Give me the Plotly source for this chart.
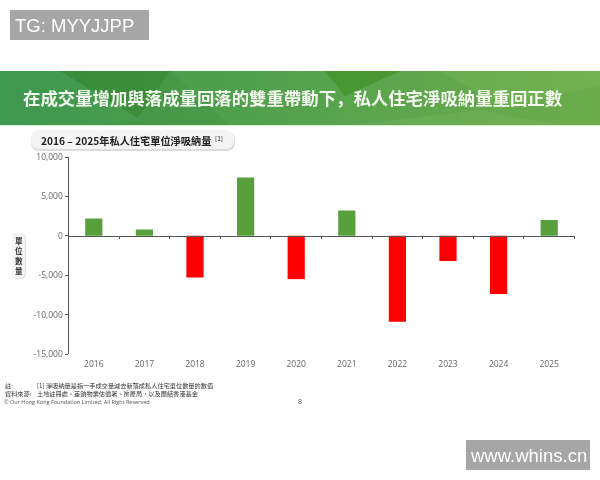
import plotly.graph_objects as go

W, H = 600, 480
CJK = "Noto Sans CJK TC"

years = ["2016", "2017", "2018", "2019", "2020", "2021", "2022", "2023", "2024", "2025"]
net_take_up = [2200, 800, -5300, 7400, -5500, 3200, -10900, -3200, -7400, 2000]
tick_vals = [10000, 5000, 0, -5000, -10000, -15000]
tick_text = ["10,000", "5,000", "0", "-5,000", "-10,000", "-15,000"]

banner_title = "在成交量增加與落成量回落的雙重帶動下，私人住宅淨吸納量重回正數"
chart_title = "2016 – 2025年私人住宅單位淨吸納量"
y_label = "單<br>位<br>數<br>量"
note_label = "註:"
note_text = "[1] 淨吸納量是指一手成交量減去新落成私人住宅單位數量的數值"
source_label = "資料來源:"
source_text = "土地註冊處、差餉物業估價署、房屋局，以及團結香港基金"
copyright_text = "© Our Hong Kong Foundation Limited. All Right Reserved."


def px(x):
    return x / W


def py(y):
    return 1 - y / H


def rect(x0, y0, x1, y1, color):
    return dict(
        type="rect", xref="paper", yref="paper",
        x0=px(x0), x1=px(x1), y0=py(y0), y1=py(y1),
        fillcolor=color, line_width=0, layer="below",
    )


def pill(x0, y0, x1, y1, r, color):
    # rounded rectangle, drawn in paper coordinates
    rx, ry = r / W, r / H
    a, b, c, d = px(x0), px(x1), py(y1), py(y0)
    path = (
        f"M{a + rx},{c} L{b - rx},{c} Q{b},{c} {b},{c + ry} L{b},{d - ry} Q{b},{d} {b - rx},{d} "
        f"L{a + rx},{d} Q{a},{d} {a},{d - ry} L{a},{c + ry} Q{a},{c} {a + rx},{c} Z"
    )
    return dict(type="path", xref="paper", yref="paper", path=path,
                fillcolor=color, line_width=0, layer="below")


def facet(points, color):
    path = "M" + " L".join(f"{px(x)},{py(y)}" for x, y in points) + " Z"
    return dict(type="path", xref="paper", yref="paper", path=path,
                fillcolor=color, line_width=0, layer="below")


def label(x, y, text, size, color="#333333", anchor="left", font=CJK):
    return dict(
        x=px(x), y=py(y), xref="paper", yref="paper", text=text, showarrow=False,
        xanchor=anchor, yanchor="middle", align=anchor, borderpad=0,
        font=dict(family=font, size=size, color=color),
    )


shapes = []
# banner gradient, left to right
left, right = (62, 152, 78), (108, 172, 76)
strips = 60
for i in range(strips):
    t = i / (strips - 1)
    c = [round(a + (b - a) * t) for a, b in zip(left, right)]
    shapes.append(rect(i * W / strips, 71, (i + 1) * W / strips + 1, 125, f"rgb({c[0]},{c[1]},{c[2]})"))
shapes += [
    facet([(60, 71), (170, 71), (138, 118)], "rgba(50,130,40,0.55)"),
    facet([(325, 71), (400, 71), (345, 96)], "rgba(60,140,30,0.55)"),
    facet([(105, 125), (138, 118), (170, 71), (230, 125)], "rgba(60,140,60,0.25)"),
    facet([(440, 71), (490, 100), (495, 110), (600, 85), (600, 71)], "rgba(130,190,90,0.25)"),
    facet([(480, 110), (560, 125), (350, 125)], "rgba(150,200,110,0.18)"),
    rect(0, 125, 600, 126, "#d5ecc8"),
    # watermarks
    rect(10, 10, 149, 40, "#a6a6a6"),
    rect(466, 440, 590, 470, "#a6a6a6"),
    # title pills, shadow first
    pill(31, 131, 235, 151, 9, "#dcdcdc"),
    pill(31, 130, 234, 149, 9, "#f4f4f4"),
    pill(12, 233, 26, 279, 6, "#e2e2e2"),
    pill(12, 233, 25, 278, 6, "#f6f6f6"),
]

annotations = [
    label(14, 25, "TG: MYYJJPP", 18.5, "#ffffff", font="Liberation Sans"),
    label(469, 455, "www.whins.cn", 18.5, "#ffffff", font="Liberation Sans"),
    label(292, 97, f"<b>{banner_title}</b>", 17.4, "#f2f8ee", anchor="center", font="Noto Sans CJK SC"),
    label(40, 140, f"<b>{chart_title}</b>", 10.2, "#222222"),
    label(214, 138, "[1]", 6.5, "#222222"),
    label(18.5, 255, f"<b>{y_label}</b>", 7.6, "#333333", anchor="center"),
    label(4, 389, f"{note_label}<br>{source_label}", 6.2),
    label(36, 389, f"{note_text}<br>{source_text}", 6.2),
    label(3, 402, copyright_text, 5.5, "#555555", font="Open Sans"),
    label(300, 401, "8", 7, "#555555", anchor="center", font="Open Sans"),
]

bar_colors = ["#58a03c" if v > 0 else "#ff0000" for v in net_take_up]

fig = go.Figure()
fig.add_trace(go.Bar(x=years, y=net_take_up, marker=dict(color=bar_colors, line_width=0),
                     width=0.34, hoverinfo="x+y"))
# carries the axis line through zero, with its ticks between the years
fig.add_trace(go.Scatter(x=years, y=net_take_up, xaxis="x2", mode="markers", opacity=0,
                         hoverinfo="skip"))

y_top, y_bottom = py(157), py(354)
zero_pos = y_bottom + (y_top - y_bottom) * 15000 / 25000

fig.update_layout(
    width=W, height=H, autosize=False,
    margin=dict(l=0, r=0, t=0, b=0),
    paper_bgcolor="white", plot_bgcolor="white",
    showlegend=False,
    shapes=shapes,
    annotations=annotations,
    font=dict(family="Open Sans", size=8.5, color="#666666"),
    xaxis=dict(
        domain=[px(68.5), px(574.5)], range=[-0.5, 9.5], automargin=False,
        type="category", showgrid=False, zeroline=False, showline=False, ticks="",
        ticklabelstandoff=3,
    ),
    xaxis2=dict(
        domain=[px(68.5), px(574.5)], automargin=False,
        matches="x", overlaying="x", anchor="free", position=zero_pos, side="bottom",
        type="category", showgrid=False, zeroline=False, showline=True,
        linecolor="#555555", linewidth=1, ticks="outside", ticklen=2, tickcolor="#555555",
        tickson="boundaries", showticklabels=False,
    ),
    yaxis=dict(
        domain=[y_bottom, y_top], range=[-15000, 10000], automargin=False,
        tickmode="array", tickvals=tick_vals, ticktext=tick_text,
        showgrid=False, zeroline=False, showline=True, linecolor="#555555", linewidth=1,
        ticks="outside", ticklen=3, tickcolor="#555555",
    ),
)

fig.write_html("out.html", config={"displayModeBar": False},
               post_script="document.body.style.margin = '0';")
